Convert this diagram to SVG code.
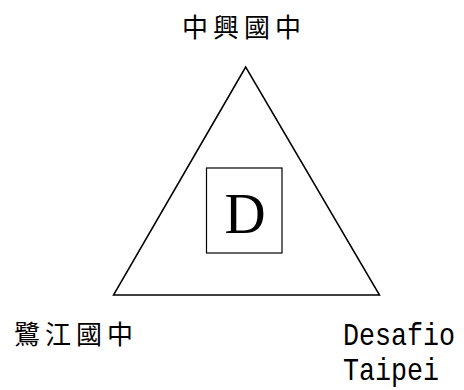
<svg xmlns="http://www.w3.org/2000/svg" width="464" height="390" viewBox="0 0 464 390">
<style>
.cjk{font-family:"Noto Sans CJK TC","Noto Sans CJK SC",sans-serif;font-size:26px;letter-spacing:5px;fill:#000}
.mono{font-family:"Liberation Mono",monospace;font-size:26.7px;fill:#000}
.shape{fill:none;stroke:#000}
</style>
<rect width="464" height="390" fill="#fff"/>
<g id="triangle"><polygon class="shape" stroke-width="1.5" points="245.7,67 113.5,295 379.5,295"/></g>
<g id="box"><rect class="shape" stroke-width="1.2" x="206.5" y="168" width="75.5" height="85"/>
<text x="245" y="233" text-anchor="middle" font-family="Liberation Serif,serif" font-size="57">D</text></g>
<g id="top"><text class="cjk" x="182" y="37">中興國中</text></g>
<g id="left"><text class="cjk" x="14" y="344">鷺江國中</text></g>
<g id="right"><text class="mono" transform="translate(343,345) scale(1,1.15)">Desafio</text>
<text class="mono" transform="translate(343,380) scale(1,1.15)">Taipei</text></g>
</svg>
